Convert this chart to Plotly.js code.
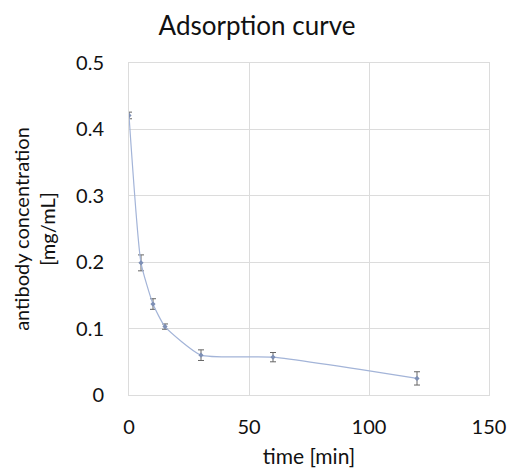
<!DOCTYPE html>
<html>
<head>
<meta charset="utf-8">
<script src="https://cdn.plot.ly/plotly-3.0.1.min.js"></script>
<style>html,body{margin:0;padding:0;background:#fff;}#chart{width:511px;height:472px;}</style>
</head>
<body>
<div id="chart"></div>
<script>
var timeMin = [0, 5, 10, 15, 30, 60, 120];
var concentration = [0.421, 0.199, 0.137, 0.103, 0.060, 0.057, 0.025];
var errorBars = [0.005, 0.012, 0.008, 0.004, 0.008, 0.007, 0.010];
var xTicks = [0, 50, 100, 150];
var yTicks = [0, 0.1, 0.2, 0.3, 0.4, 0.5];

var FONT = 'Lato, "Open Sans", sans-serif';

var trace = {
  x: timeMin,
  y: concentration,
  type: 'scatter',
  mode: 'lines+markers',
  line: {color: '#a3b4d8', width: 1.2, shape: 'spline', smoothing: 0.5},
  marker: {color: '#7d8fb5', size: 4, symbol: 'diamond'},
  error_y: {type: 'data', array: errorBars, visible: true, color: '#666666', thickness: 1, width: 3},
  hoverinfo: 'x+y'
};

var layout = {
  width: 511,
  height: 472,
  margin: {l: 129, r: 22, t: 63, b: 77},
  paper_bgcolor: '#ffffff',
  plot_bgcolor: '#ffffff',
  showlegend: false,
  font: {family: FONT, color: '#111111', size: 20},
  title: {text: 'Adsorption curve', font: {family: FONT, size: 26, color: '#111'}, x: 0.503, xanchor: 'center', y: 0.945, yanchor: 'middle'},
  xaxis: {
    range: [0, 150],
    tickvals: xTicks,
    ticktext: xTicks.map(String),
    showgrid: true,
    gridcolor: '#dcdcdc',
    gridwidth: 1,
    zeroline: false,
    showline: true,
    linecolor: '#dcdcdc',
    mirror: true,
    ticks: '',
    ticklabelstandoff: 14,
    tickfont: {family: FONT, size: 20, color: '#111'},
    title: {text: 'time [min]', font: {family: FONT, size: 21, color: '#111'}, standoff: 12}
  },
  yaxis: {
    range: [0, 0.5],
    tickvals: yTicks,
    ticktext: yTicks.map(function(v){return v === 0 ? '0' : v.toFixed(1);}),
    showgrid: true,
    gridcolor: '#dcdcdc',
    gridwidth: 1,
    zeroline: false,
    showline: true,
    linecolor: '#dcdcdc',
    mirror: true,
    ticks: '',
    ticklabelstandoff: 20,
    tickfont: {family: FONT, size: 20, color: '#111'},
    title: {text: 'antibody concentration<br>[mg/mL]', font: {family: FONT, size: 20, color: '#111'}, standoff: 15}
  }
};

Plotly.newPlot('chart', [trace], layout, {displayModeBar: false, staticPlot: true});
</script>
</body>
</html>
